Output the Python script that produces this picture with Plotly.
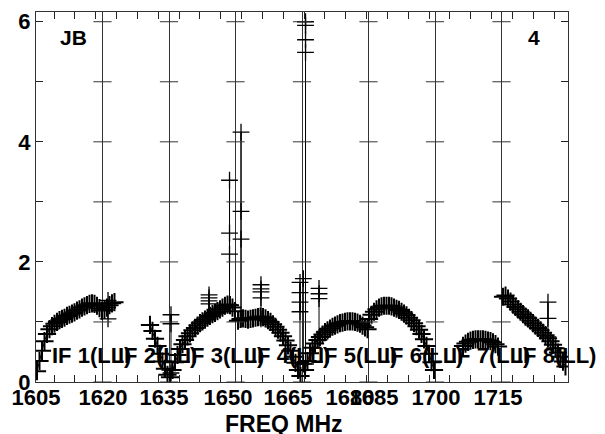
import numpy as np
import plotly.graph_objects as go

# IF bandpass amplitudes, channel span given in IF-panel units (1 unit = 1 IF)
if1_span = [0.015, 1.180]
if1_amp = [0.18, 0.35, 0.52, 0.68, 0.80, 0.88, 0.93, 0.97, 1.00, 1.03, 1.05, 1.07,
           1.10, 1.12, 1.14, 1.16, 1.19, 1.21, 1.24, 1.26, 1.28, 1.30, 1.31, 1.30,
           1.27, 1.23, 1.19, 1.20, 1.24, 1.28, 1.31, 1.33]
if2_span = [1.714, 1.977]
if2_amp = [0.95, 0.85, 0.72, 0.60, 0.47, 0.34, 0.22, 0.12]
if3_span = [2.015, 2.992]
if3_amp = [0.08, 0.20, 0.33, 0.45, 0.55, 0.63, 0.70, 0.76, 0.81, 0.86, 0.90, 0.94,
           0.98, 1.01, 1.04, 1.07, 1.10, 1.13, 1.15, 1.18, 1.21, 1.24, 1.27, 1.29,
           1.28, 1.24, 1.18]
if4_span = [3.038, 3.977]
if4_amp = [1.02, 1.05, 1.06, 1.05, 1.04, 1.05, 1.06, 1.07, 1.08, 1.09, 1.08, 1.06,
           1.03, 1.00, 0.96, 0.92, 0.87, 0.82, 0.76, 0.69, 0.61, 0.52, 0.42, 0.32,
           0.20, 0.10]
if5_span = [4.045, 4.985]
if5_amp = [0.20, 0.35, 0.48, 0.57, 0.64, 0.70, 0.75, 0.79, 0.83, 0.86, 0.89, 0.92,
           0.94, 0.96, 0.98, 0.99, 1.00, 1.01, 1.01, 1.01, 1.00, 0.99, 0.97, 0.94,
           0.91, 0.88]
if6_span = [5.008, 5.985]
if6_amp = [1.05, 1.12, 1.17, 1.21, 1.24, 1.26, 1.27, 1.27, 1.27, 1.26, 1.24, 1.22,
           1.20, 1.17, 1.14, 1.11, 1.07, 1.03, 0.98, 0.93, 0.87, 0.80, 0.71, 0.60,
           0.47, 0.33, 0.20]
if7_span = [6.421, 6.947]
if7_amp = [0.60, 0.64, 0.67, 0.69, 0.70, 0.71, 0.71, 0.71, 0.71, 0.70, 0.69, 0.68,
           0.66, 0.63, 0.59]
if8_span = [7.023, 7.962]
if8_amp = [1.42, 1.44, 1.39, 1.34, 1.29, 1.25, 1.21, 1.17, 1.13, 1.09, 1.06, 1.02,
           0.98, 0.94, 0.90, 0.86, 0.82, 0.78, 0.73, 0.68, 0.62, 0.56, 0.49, 0.42,
           0.34, 0.26]

# narrow line features (position, amplitudes of the channels on it)
spike_pos = [1.083, 2.030, 2.602, 2.910, 3.083, 3.383, 3.970, 4.020, 4.053, 4.256, 7.699]
spike_amp = [[1.05, 1.36],
             [0.15, 1.12, 0.97],
             [1.10, 1.45, 1.35, 1.40, 1.30],
             [1.28, 3.36, 2.48, 2.13, 1.28],
             [1.05, 4.16, 2.84, 2.38, 1.05],
             [1.05, 1.62, 1.50, 1.55, 1.40],
             [0.20, 1.66, 1.49, 1.33, 1.17],
             [0.30, 1.72],
             [0.30, 6.00, 5.94, 5.70, 5.49],
             [0.70, 1.56, 1.47, 1.39],
             [0.75, 1.33, 1.06]]

if_labels = ["IF 1(LL)", "IF 2(LL)", "IF 3(LL)", "IF 4(LL)",
             "IF 5(LL)", "IF 6(LL)", "IF 7(LL)", "IF 8(LL)"]
freq_labels = ["1605", "1620", "1635", "1650", "1665", "1680", "1685", "1700", "1715"]
freq_pos = [0.0, 1.008, 1.925, 2.887, 3.789, 4.722, 5.083, 6.015, 6.947]
panel_edges = [1, 2, 3, 4, 5, 6, 7]
minor_pos = [0.2707 + 0.3133 * k for k in range(25)]
y_ticks = [0, 1, 2, 3, 4, 5, 6]
y_labels = ["0", "", "2", "", "4", "", "6"]

FONT = "Liberation Sans"
ink = "black"
frame = "#333"

fig = go.Figure()

spans = [if1_span, if2_span, if3_span, if4_span, if5_span, if6_span, if7_span, if8_span]
amps = [if1_amp, if2_amp, if3_amp, if4_amp, if5_amp, if6_amp, if7_amp, if8_amp]
for span, amp in zip(spans, amps):
    fig.add_trace(go.Scatter(
        x=np.linspace(span[0], span[1], len(amp)), y=amp, mode="lines+markers",
        line=dict(color=ink, width=1),
        marker=dict(symbol="cross-thin", size=13, line=dict(color=ink, width=2)),
        showlegend=False, hoverinfo="skip"))

for pos, amp in zip(spike_pos, spike_amp):
    fig.add_trace(go.Scatter(
        x=[pos] * len(amp), y=amp, mode="lines+markers",
        line=dict(color=ink, width=1),
        marker=dict(symbol="cross-thin", size=12, line=dict(color=ink, width=1.3)),
        showlegend=False, hoverinfo="skip"))

# y ticks repeated on every IF boundary
bx = [e for e in panel_edges for _ in y_ticks]
by = [t for _ in panel_edges for t in y_ticks]
fig.add_trace(go.Scatter(
    x=bx, y=by, xaxis="x2", mode="markers",
    marker=dict(symbol="line-ew", size=13, line=dict(color=frame, width=1)),
    showlegend=False, hoverinfo="skip"))

for i, lab in enumerate(if_labels):
    fig.add_annotation(x=i + 0.21, y=0.437, text=lab, showarrow=False,
                       xanchor="left", yanchor="middle",
                       font=dict(family=FONT, size=22, color=ink, weight="bold"))

fig.add_annotation(x=0.0714, y=0.93, xref="paper", yref="paper", text="JB",
                   showarrow=False, xanchor="center", yanchor="middle",
                   font=dict(family=FONT, size=21, color=ink, weight="bold"))
fig.add_annotation(x=0.936, y=0.93, xref="paper", yref="paper", text="4",
                   showarrow=False, xanchor="center", yanchor="middle",
                   font=dict(family=FONT, size=21, color=ink, weight="bold"))
fig.add_annotation(x=0.466, y=-0.114, xref="paper", yref="paper", text="FREQ MHz",
                   showarrow=False, xanchor="center", yanchor="middle",
                   font=dict(family=FONT, size=23, color=ink, weight="bold"))

# page body has an 8px margin, so the figure is sized to fit inside the window
fig.update_layout(
    width=597, height=426,
    margin=dict(l=28, r=37, t=4, b=52),
    plot_bgcolor="white", paper_bgcolor="white",
    xaxis=dict(range=[0, 8], tickmode="array", tickvals=minor_pos, ticks="inside",
               ticklen=7, tickwidth=1.3, tickcolor="#222", showticklabels=False,
               automargin=False, showgrid=False, zeroline=False, layer="above traces",
               showline=True, linecolor=frame, linewidth=1, mirror="ticks"),
    xaxis2=dict(range=[0, 8], overlaying="x", side="bottom", tickmode="array",
                tickvals=freq_pos, ticktext=freq_labels, ticks="", tickangle=0,
                automargin=False, showgrid=False, zeroline=False, showline=False,
                tickfont=dict(family=FONT, size=22, color=ink, weight="bold"),
                minor=dict(tickvals=panel_edges, showgrid=True, gridcolor=frame,
                           gridwidth=1, ticks="")),
    yaxis=dict(range=[0, 6.162], tickmode="array", tickvals=y_ticks, automargin=False,
               ticktext=y_labels, ticks="inside", ticklen=7, tickwidth=1.3,
               tickcolor="#222", showgrid=False, zeroline=False, showline=True,
               linecolor=frame, linewidth=1, mirror="ticks",
               tickfont=dict(family=FONT, size=22, color=ink, weight="bold")),
)

fig.write_html("out.html")
